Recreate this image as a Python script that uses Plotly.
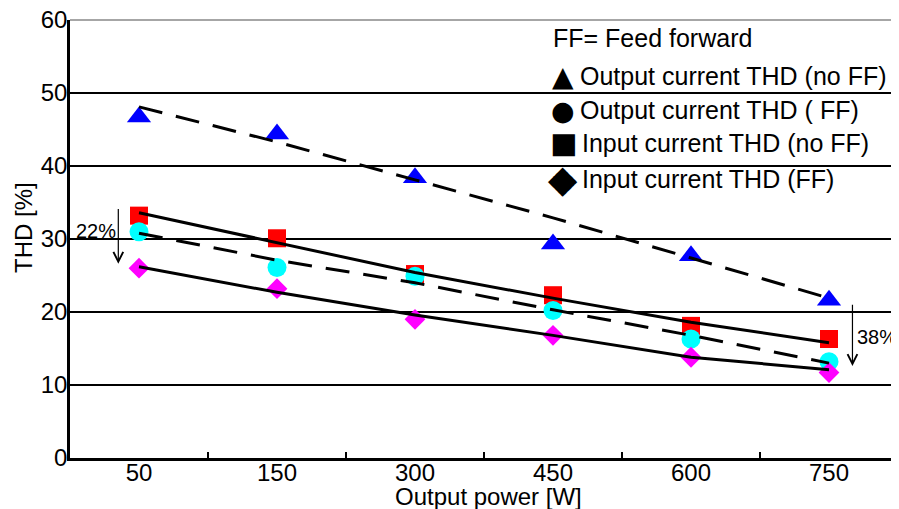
import plotly.graph_objects as go

categories = ["50", "150", "300", "450", "600", "750"]

out_noff = [46.7, 44.4, 38.4, 29.3, 27.7, 21.6]   # blue triangles
out_ff = [31.0, 26.1, 24.9, 20.2, 16.3, 13.2]     # cyan circles
in_noff = [33.2, 30.1, 25.2, 22.3, 18.1, 16.3]    # red squares
in_ff = [26.0, 23.2, 19.0, 16.8, 13.8, 11.7]      # magenta diamonds

trend_out_noff = [48.1, 43.3, 38.1, 32.9, 27.4, 21.9]
trend_in_noff = [33.6, 29.5, 25.4, 21.9, 18.6, 15.8]
trend_out_ff = [30.8, 27.1, 24.0, 20.3, 16.8, 13.0]
trend_in_ff = [26.2, 22.7, 19.6, 16.8, 13.8, 12.1]

y_ticks = [0, 10, 20, 30, 40, 50, 60]

FONT = "Liberation Sans, Arial, sans-serif"
OFF = 8  # page body margin of the browser
W, H = 899 - OFF, 509 - OFF
PL, PT, PR, PB = 70, 20, 898, 458        # plot box in page pixels
L, T = PL - OFF, PT - OFF
R, B = W - (PR - OFF), H - (PB - OFF)
PW, PH = PR - PL, PB - PT


def px(xp):
    return (xp - PL) / PW


def py(yp):
    return (PB - yp) / PH


fig = go.Figure()

# markers
fig.add_trace(go.Scatter(x=categories, y=out_noff, mode="markers",
                         marker=dict(symbol="triangle-up", size=21, color="#0000ff")))
fig.add_trace(go.Scatter(x=categories, y=in_noff, mode="markers",
                         marker=dict(symbol="square", size=18, color="#ff0000")))
fig.add_trace(go.Scatter(x=categories, y=out_ff, mode="markers",
                         marker=dict(symbol="circle", size=19, color="#00ffff")))
fig.add_trace(go.Scatter(x=categories, y=in_ff, mode="markers",
                         marker=dict(symbol="diamond", size=16, color="#ff00ff")))

# trend lines
fig.add_trace(go.Scatter(x=categories, y=trend_out_noff, mode="lines",
                         line=dict(color="black", width=3, dash="24px,14px")))
fig.add_trace(go.Scatter(x=categories, y=trend_in_noff, mode="lines",
                         line=dict(color="black", width=3)))
fig.add_trace(go.Scatter(x=categories, y=trend_out_ff, mode="lines",
                         line=dict(color="black", width=3, dash="24px,14px")))
fig.add_trace(go.Scatter(x=categories, y=trend_in_ff, mode="lines",
                         line=dict(color="black", width=3)))

annotations = []
# arrows
annotations.append(dict(x=-0.15, y=26.6, ax=-0.15, ay=34.3, xref="x", yref="y",
                        axref="x", ayref="y", text="", showarrow=True,
                        arrowhead=5, arrowsize=1.6, arrowwidth=1.2, arrowcolor="black"))
annotations.append(dict(x=px(96), y=py(231), xref="paper", yref="paper", text="22%",
                        xanchor="center", yanchor="middle",
                        showarrow=False, font=dict(family=FONT, size=20, color="black")))
annotations.append(dict(x=5.17, y=12.6, ax=5.17, ay=21.2, xref="x", yref="y",
                        axref="x", ayref="y", text="", showarrow=True,
                        arrowhead=5, arrowsize=1.6, arrowwidth=1.2, arrowcolor="black"))
annotations.append(dict(x=px(877), y=py(337), xref="paper", yref="paper", text="38%",
                        xanchor="center", yanchor="middle",
                        showarrow=False, font=dict(family=FONT, size=20, color="black")))

# legend-like texts
legend_rows = [
    ("", 0, "FF= Feed forward", 38, 551),
    ("▲", 28, "Output current THD (no FF)", 76, 578),
    ("●", 27, "Output current THD ( FF)", 110, 578),
    ("■", 29, "Input current THD (no FF)", 143, 580),
    ("◆", 38, "Input current THD (FF)", 179, 580),
]
for glyph, gsize, txt, ypix, tx in legend_rows:
    annotations.append(dict(x=px(tx), y=py(ypix), xref="paper", yref="paper",
                            xanchor="left", yanchor="middle", text=txt, showarrow=False,
                            font=dict(family=FONT, size=25, color="black")))
    if glyph:
        annotations.append(dict(x=px(563), y=py(ypix), xref="paper", yref="paper",
                                xanchor="center", yanchor="middle", text=glyph,
                                showarrow=False,
                                font=dict(family="DejaVu Sans", size=gsize, color="black")))

# axis titles
annotations.append(dict(x=px(23), y=py(228), xref="paper", yref="paper",
                        xanchor="center", yanchor="middle",
                        text="THD [%]", textangle=-90, showarrow=False,
                        font=dict(family=FONT, size=24, color="black")))
annotations.append(dict(x=px(488), y=py(496), xref="paper", yref="paper",
                        xanchor="center", yanchor="middle",
                        text="Output power [W]", showarrow=False,
                        font=dict(family=FONT, size=24, color="black")))

shapes = [
    dict(type="line", xref="paper", yref="paper", x0=0, x1=1, y0=1, y1=1,
         line=dict(color="#888888", width=1.5)),
    dict(type="line", xref="paper", yref="paper", x0=1, x1=1, y0=0, y1=1,
         line=dict(color="#888888", width=1.5)),
]

fig.update_layout(
    width=W, height=H,
    margin=dict(l=L, r=R, t=T, b=B, pad=0),
    plot_bgcolor="white", paper_bgcolor="white",
    showlegend=False,
    font=dict(family=FONT, size=24, color="black"),
    annotations=annotations,
    shapes=shapes,
    xaxis=dict(type="category", categoryarray=categories, range=[-0.5, 5.5],
               automargin=False,
               showgrid=False, showline=True, linecolor="black", linewidth=2.5,
               ticks="inside", tickson="boundaries", ticklen=6, tickwidth=2,
               tickcolor="black", tickfont=dict(family=FONT, size=24),
               ticklabelstandoff=-9, ticklabeloverflow="allow"),
    yaxis=dict(range=[0, 60], tickvals=y_ticks, showgrid=True, gridcolor="black",
               gridwidth=1.6, showline=True, linecolor="black", linewidth=2.5,
               automargin=False,
               zeroline=False, ticks="", ticklabelstandoff=-5,
               ticklabeloverflow="allow",
               tickfont=dict(family=FONT, size=24)),
)

fig.write_html("out.html")
